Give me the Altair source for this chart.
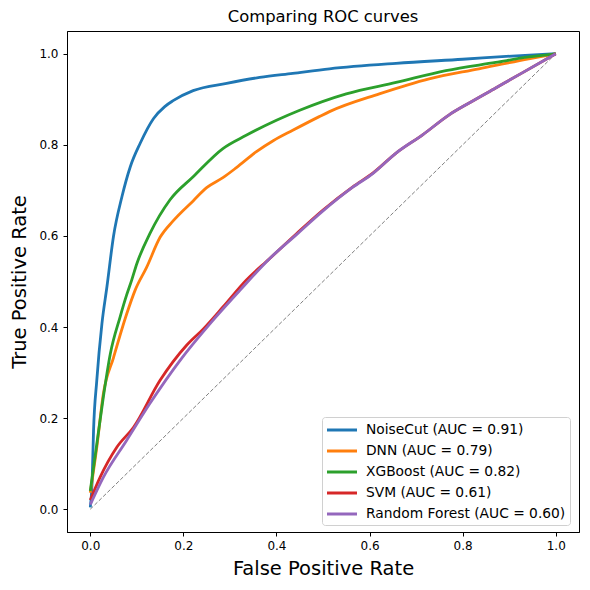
import altair as alt
import pandas as pd

models = ["NoiseCut (AUC = 0.91)", "DNN (AUC = 0.79)", "XGBoost (AUC = 0.82)",
          "SVM (AUC = 0.61)", "Random Forest (AUC = 0.60)"]
colors = ["#1f77b4", "#ff7f0e", "#2ca02c", "#d62728", "#9467bd"]

noisecut_fpr = [0, 0.004, 0.007, 0.014, 0.025, 0.036, 0.05, 0.068, 0.086, 0.107, 0.136, 0.16, 0.178,
                0.221, 0.293, 0.364, 0.435, 0.514, 0.657, 0.8, 0.906, 1.0]
noisecut_tpr = [0.004, 0.062, 0.172, 0.283, 0.407, 0.49, 0.6, 0.686, 0.752, 0.803, 0.858, 0.884, 0.897,
                0.919, 0.935, 0.948, 0.957, 0.967, 0.979, 0.988, 0.995, 1.0]

dnn_fpr = [0, 0.014, 0.028, 0.05, 0.078, 0.096, 0.121, 0.15, 0.178, 0.221, 0.25, 0.285, 0.314, 0.357,
           0.393, 0.435, 0.492, 0.514, 0.621, 0.728, 0.835, 0.942, 1.0]
dnn_tpr = [0.036, 0.136, 0.253, 0.333, 0.428, 0.48, 0.531, 0.597, 0.633, 0.677, 0.706, 0.728, 0.75, 0.785,
           0.809, 0.832, 0.862, 0.873, 0.912, 0.945, 0.967, 0.989, 1.0]

xgb_fpr = [0, 0.014, 0.028, 0.043, 0.064, 0.078, 0.089, 0.1, 0.128, 0.171, 0.221, 0.285, 0.335, 0.4,
           0.45, 0.55, 0.657, 0.764, 0.871, 0.942, 1.0]
xgb_tpr = [0.04, 0.143, 0.246, 0.341, 0.422, 0.47, 0.503, 0.539, 0.605, 0.679, 0.73, 0.792, 0.821, 0.854,
           0.876, 0.912, 0.937, 0.963, 0.981, 0.993, 1.0]

svm_fpr = [0, 0.021, 0.057, 0.093, 0.15, 0.207, 0.243, 0.285, 0.335, 0.385, 0.443, 0.5, 0.564, 0.607,
           0.657, 0.714, 0.771, 0.814, 0.871, 0.928, 1.0]
svm_tpr = [0.02, 0.07, 0.136, 0.18, 0.283, 0.36, 0.396, 0.444, 0.503, 0.55, 0.605, 0.657, 0.708, 0.738,
           0.782, 0.822, 0.866, 0.892, 0.925, 0.958, 1.0]

rf_fpr = [0, 0.028, 0.078, 0.128, 0.193, 0.257, 0.321, 0.385, 0.443, 0.5, 0.564, 0.607, 0.657, 0.714,
          0.771, 0.814, 0.871, 0.928, 1.0]
rf_tpr = [0.01, 0.07, 0.151, 0.232, 0.327, 0.407, 0.48, 0.55, 0.603, 0.655, 0.707, 0.737, 0.782, 0.822,
          0.866, 0.892, 0.925, 0.958, 1.0]

diag_fpr = [0.0, 1.0]
diag_tpr = [0.0, 1.0]

series = [(noisecut_fpr, noisecut_tpr), (dnn_fpr, dnn_tpr), (xgb_fpr, xgb_tpr),
          (svm_fpr, svm_tpr), (rf_fpr, rf_tpr)]
rows = []
for m, (fx, ty) in zip(models, series):
    for i, (a, b) in enumerate(zip(fx, ty)):
        rows.append({"model": m, "fpr": a, "tpr": b, "idx": i})
df = pd.DataFrame(rows)
diag = pd.DataFrame({"fpr": diag_fpr, "tpr": diag_tpr})

FONT = "DejaVu Sans"
xscale = alt.Scale(domain=[-0.05, 1.05], nice=False, zero=False)
yscale = alt.Scale(domain=[-0.05, 1.05], nice=False, zero=False)
ticks = [0, 0.2, 0.4, 0.6, 0.8, 1.0]

xaxis = alt.Axis(values=ticks, format=".1f", title="False Positive Rate", grid=False,
                 tickSize=4, tickColor="black", domainColor="black", labelColor="black",
                 labelFontSize=12, titleFontSize=19.5, titleFontWeight="normal", titleColor="black",
                 labelPadding=4, titlePadding=8, labelFont=FONT, titleFont=FONT)
yaxis = alt.Axis(values=ticks, format=".1f", title="True Positive Rate", grid=False,
                 tickSize=4, tickColor="black", domainColor="black", labelColor="black",
                 labelFontSize=12, titleFontSize=19.5, titleFontWeight="normal", titleColor="black",
                 labelPadding=5, titlePadding=9, labelFont=FONT, titleFont=FONT)

diag_line = alt.Chart(diag).mark_line(color="gray", strokeWidth=1, strokeDash=[4, 2]).encode(
    x=alt.X("fpr:Q", scale=xscale, axis=xaxis),
    y=alt.Y("tpr:Q", scale=yscale, axis=yaxis),
)

curves = alt.Chart(df).mark_line(strokeWidth=2.8, interpolate="monotone").encode(
    x=alt.X("fpr:Q", scale=xscale, axis=xaxis),
    y=alt.Y("tpr:Q", scale=yscale, axis=yaxis),
    color=alt.Color("model:N", scale=alt.Scale(domain=models, range=colors), sort=models,
                    legend=alt.Legend(title=None, orient="none", legendX=255, legendY=386,
                                      symbolType="M-2,0L2,0", symbolSize=225, symbolStrokeWidth=3,
                                      symbolOffset=7,
                                      labelFontSize=13.8, labelFont=FONT, labelColor="black",
                                      labelLimit=400, rowPadding=5, padding=4,
                                      strokeColor="#d0d0d0", fillColor="white",
                                      cornerRadius=3, labelOffset=15)),
    order="idx:Q",
)

chart = alt.layer(diag_line, curves).properties(
    width=512, height=501,
    background="white",
    title=alt.TitleParams("Comparing ROC curves", fontSize=16.4, font=FONT, fontWeight="normal",
                          color="black", offset=6),
    autosize=alt.AutoSizeParams(type="none"),
    padding={"left": 59, "top": 23, "right": 3, "bottom": 51},
).configure_view(stroke="black", strokeWidth=1)

chart.save("out.html", embed_options={"renderer": "svg", "actions": False})
